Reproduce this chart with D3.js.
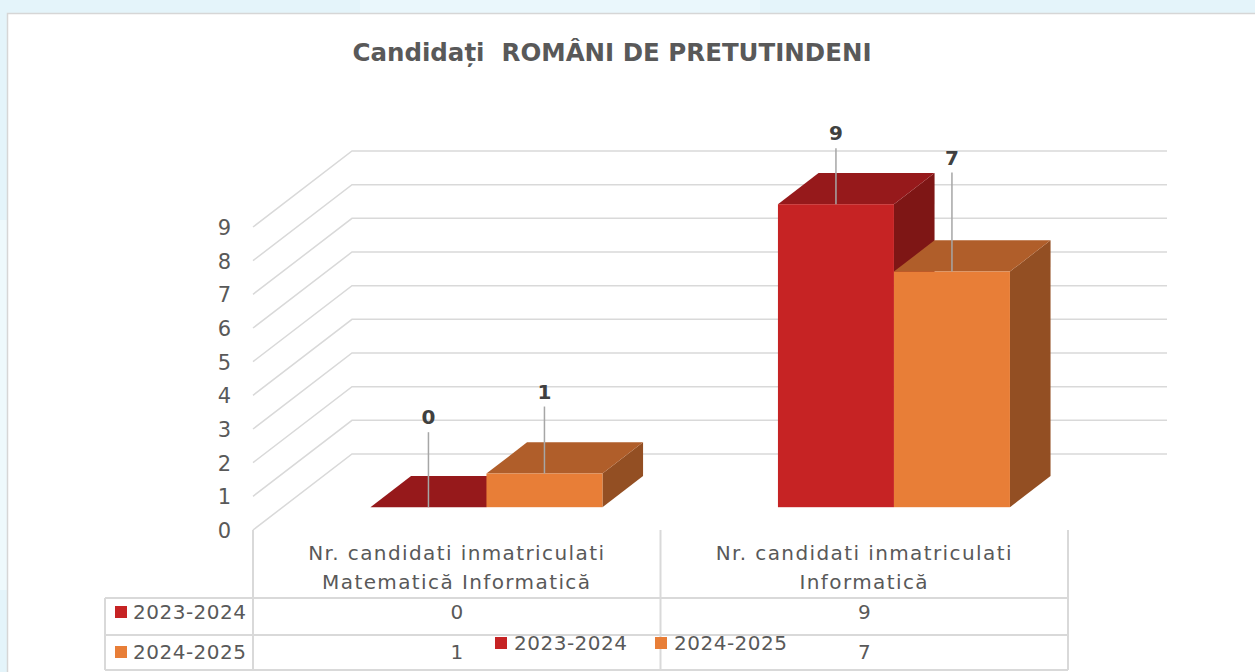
<!DOCTYPE html>
<html><head><meta charset="utf-8">
<script src="https://cdn.jsdelivr.net/npm/d3@7"></script>
<style>html,body{margin:0;padding:0;background:#fff;overflow:hidden}svg{display:block}</style>
</head><body>
<svg id="chart" width="1255" height="672"></svg>
<script>
// ---------- data ----------
const chartTitle = "Candidați  ROMÂNI DE PRETUTINDENI";
const categories = ["Nr. candidati inmatriculati Matematică Informatică", "Nr. candidati inmatriculati Informatică"];
const categoryLines = [["Nr. candidati inmatriculati", "Matematică Informatică"], ["Nr. candidati inmatriculati", "Informatică"]];
const seriesNames = ["2023-2024", "2024-2025"];
const values2023_2024 = [0, 9];
const values2024_2025 = [1, 7];
const yTickValues = [0, 1, 2, 3, 4, 5, 6, 7, 8, 9];

// ---------- layout / style ----------
const series = [
  {name: seriesNames[0], values: values2023_2024, front: "#C62324", top: "#96191B", side: "#7E1615"},
  {name: seriesNames[1], values: values2024_2025, front: "#E87E37", top: "#B05E2A", side: "#934F23"}
];
const labelLift = [[90, 82], [71, 114]]; // data label distance above bar top (per category, per series)
const FONT = "'DejaVu Sans', sans-serif";
const TXT = "#595959";
const GRID = "#d9d9d9";

const svg = d3.select("#chart");

// background + panel
svg.append("rect").attr("x", 0).attr("y", 0).attr("width", 1255).attr("height", 672).attr("fill", "#e4f4fa");
svg.append("rect").attr("x", 360).attr("y", 0).attr("width", 400).attr("height", 13).attr("fill", "#eaf7fc");
svg.append("rect").attr("x", 0).attr("y", 220).attr("width", 7).attr("height", 370).attr("fill", "#eef9fc");
svg.append("rect").attr("x", 7.5).attr("y", 13.5).attr("width", 1270).attr("height", 680)
  .attr("fill", "#fff").attr("stroke", "#d6d6d6").attr("stroke-width", 1.5);

// title
svg.append("text").attr("x", 612).attr("y", 61).attr("text-anchor", "middle")
  .attr("font-family", FONT).attr("font-weight", "bold").attr("font-size", 24.5)
  .attr("fill", TXT).attr("xml:space", "preserve").style("white-space", "pre").text(chartTitle);

// 3D geometry
const floorX0 = 253, floorX1 = 1068, floorY = 530;
const depthDX = 99, depthDY = 76;
const barZ0 = 0.30, barZ1 = 0.71;

const yH = d3.scaleLinear().domain([0, 9]).range([0, 303]);
const x = d3.scaleBand().domain(categories).range([floorX0, floorX1]).paddingInner(0).paddingOuter(0);
function P(px, v, z) { return [px + depthDX * z, floorY - yH(v) - depthDY * z]; }

// gridlines (side wall diagonal + back wall)
const gGrid = svg.append("g");
gGrid.selectAll("path").data(yTickValues).join("path")
  .attr("d", t => d3.line()([P(floorX0, t, 0), P(floorX0, t, 1), P(floorX1, t, 1)]))
  .attr("fill", "none").attr("stroke", GRID).attr("stroke-width", 1.5);

// y axis labels
const yFront = d3.scaleLinear().domain([0, 9]).range([floorY, floorY - yH(9)]);
const yAxis = svg.append("g").attr("transform", "translate(240,0)")
  .call(d3.axisLeft(yFront).tickValues(yTickValues).tickSize(0).tickPadding(9).tickFormat(d3.format("d")));
yAxis.select(".domain").remove();
yAxis.selectAll("text").attr("font-family", FONT).attr("font-size", 21).attr("fill", TXT).attr("dy", "0.35em");

// bars
const barW = 116;
const gBars = svg.append("g");
categories.forEach((cat, ci) => {
  const c = x(cat) + x.bandwidth() / 2;
  const sx = d3.scaleBand().domain(seriesNames).range([c - barW, c + barW]);
  series.forEach((s, si) => {
    const v = s.values[ci];
    const bx = sx(s.name);
    const fl = P(bx, v, barZ0), fr = P(bx + barW, v, barZ0);
    const bl = P(bx, v, barZ1), br = P(bx + barW, v, barZ1);
    const fb = P(bx + barW, 0, barZ0), bb = P(bx + barW, 0, barZ1);
    const fbl = P(bx, 0, barZ0);
    const g = gBars.append("g");
    g.append("path").attr("d", d3.line()([fr, br, bb, fb]) + "Z").attr("fill", s.side);
    g.append("path").attr("d", d3.line()([fl, bl, br, fr]) + "Z").attr("fill", s.top);
    g.append("rect").attr("x", fl[0]).attr("y", fl[1]).attr("width", barW).attr("height", fbl[1] - fl[1]).attr("fill", s.front);
  });
});

// data labels with leader lines
const gLab = svg.append("g");
categories.forEach((cat, ci) => {
  const c = x(cat) + x.bandwidth() / 2;
  const sx = d3.scaleBand().domain(seriesNames).range([c - barW, c + barW]);
  series.forEach((s, si) => {
    const v = s.values[ci];
    const top = P(sx(s.name) + barW / 2, v, barZ0);
    const ly = top[1] - labelLift[ci][si];
    gLab.append("line").attr("x1", top[0]).attr("x2", top[0]).attr("y1", top[1]).attr("y2", ly + 15)
      .attr("stroke", "#a6a6a6").attr("stroke-width", 1.5);
    gLab.append("text").attr("x", top[0]).attr("y", ly).attr("dy", "0.35em").attr("text-anchor", "middle")
      .attr("font-family", FONT).attr("font-weight", "bold").attr("font-size", 20).attr("fill", "#404040")
      .text(d3.format("d")(v));
  });
});

// data table
const tLeft = 105, rowY = [598, 635, 670];
const gT = svg.append("g").attr("stroke", GRID).attr("stroke-width", 2);
[floorX0, x(categories[1]), floorX1].forEach(xx => gT.append("line").attr("x1", xx).attr("x2", xx).attr("y1", floorY).attr("y2", 670));
gT.append("line").attr("x1", tLeft).attr("x2", tLeft).attr("y1", rowY[0]).attr("y2", 670);
rowY.forEach(yy => gT.append("line").attr("x1", tLeft).attr("x2", floorX1).attr("y1", yy).attr("y2", yy));

const gTT = svg.append("g").attr("font-family", FONT).attr("font-size", 20).attr("fill", TXT);
categories.forEach((cat, ci) => {
  const c = x(cat) + x.bandwidth() / 2;
  categoryLines[ci].forEach((ln, li) => {
    gTT.append("text").attr("x", c).attr("y", 553 + li * 29).attr("dy", "0.35em").attr("text-anchor", "middle")
      .attr("letter-spacing", 1.4).text(ln);
  });
  series.forEach((s, si) => {
    gTT.append("text").attr("x", c).attr("y", 612 + si * 40).attr("dy", "0.35em").attr("text-anchor", "middle")
      .text(d3.format("d")(s.values[ci]));
  });
});
series.forEach((s, si) => {
  const cy = 612 + si * 40;
  gTT.append("rect").attr("x", 115).attr("y", cy - 6).attr("width", 12).attr("height", 12).attr("fill", s.front);
  gTT.append("text").attr("x", 133).attr("y", cy).attr("dy", "0.35em").attr("letter-spacing", 0.5).text(s.name);
});

// legend (overlapping the table, as in the original)
const lx = d3.scaleOrdinal().domain(seriesNames).range([495, 655]);
series.forEach(s => {
  const g = svg.append("g").attr("transform", `translate(${lx(s.name)},643)`);
  g.append("rect").attr("x", 0).attr("y", -6).attr("width", 12).attr("height", 12).attr("fill", s.front);
  g.append("text").attr("x", 19).attr("y", 0).attr("dy", "0.35em").attr("font-family", FONT).attr("font-size", 20)
    .attr("letter-spacing", 0.5).attr("fill", TXT).text(s.name);
});
</script>
</body></html>
